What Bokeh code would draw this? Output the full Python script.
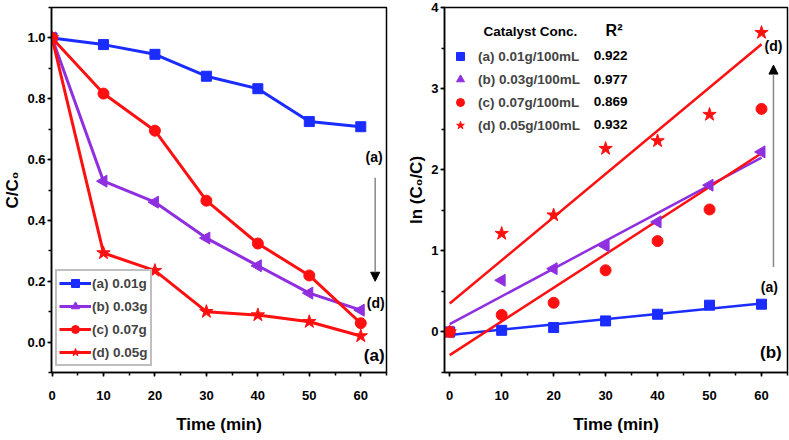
import numpy as np
from bokeh.plotting import figure
from bokeh.layouts import row
from bokeh.models import (Legend, LegendItem, Arrow, NormalHead, Label,
                          SingleIntervalTicker, PrintfTickFormatter)
from bokeh.embed import file_html
from bokeh.resources import INLINE

# ---------------- data ----------------
time = [0, 10, 20, 30, 40, 50, 60]

labels_left = ["(a) 0.01g", "(b) 0.03g", "(c) 0.07g", "(d) 0.05g"]
c_a = [1.0, 0.978, 0.946, 0.874, 0.833, 0.725, 0.708]
c_b = [1.0, 0.529, 0.460, 0.342, 0.251, 0.161, 0.105]
c_c = [1.0, 0.817, 0.695, 0.465, 0.324, 0.219, 0.062]
c_d = [1.0, 0.293, 0.235, 0.100, 0.089, 0.067, 0.020]

labels_right = ["(a) 0.01g/100mL", "(b) 0.03g/100mL", "(c) 0.07g/100mL", "(d) 0.05g/100mL"]
r2_values = ["0.922", "0.977", "0.869", "0.932"]
ln_a = [0.0, 0.020, 0.054, 0.136, 0.218, 0.330, 0.342]
ln_b = [0.0, 0.637, 0.780, 1.060, 1.357, 1.810, 2.220]
ln_c = [0.0, 0.210, 0.360, 0.760, 1.120, 1.510, 2.750]
ln_d = [0.0, 1.213, 1.440, 2.260, 2.355, 2.680, 3.690]

# ---------------- styles ----------------
BLUE = "#1a2cff"
PURPLE = "#8f2fe0"
RED = "#ff1010"
FONT = "Liberation Sans"
colors = [BLUE, PURPLE, RED, RED]
markers = ["square", "triangle", "circle", "star"]
angles = [0, np.pi / 2, 0, 0]
sizes = [10, 12, 11, 14]


def style_axes(p, xint, yint, yfmt=None):
    p.xgrid.visible = False
    p.ygrid.visible = False
    p.outline_line_color = "black"
    p.outline_line_width = 1.5
    p.outline_line_alpha = 1
    p.xaxis.ticker = SingleIntervalTicker(interval=xint, num_minor_ticks=2)
    p.yaxis.ticker = SingleIntervalTicker(interval=yint, num_minor_ticks=2)
    if yfmt:
        p.yaxis.formatter = PrintfTickFormatter(format=yfmt)
    for ax in (p.xaxis[0], p.yaxis[0]):
        ax.axis_line_width = 1.5
        ax.axis_line_color = "black"
        ax.major_tick_line_width = 1.5
        ax.minor_tick_line_width = 1.5
        ax.major_tick_in = 0
        ax.major_tick_out = 4
        ax.minor_tick_in = 0
        ax.minor_tick_out = 3
        ax.major_label_text_font = FONT
        ax.major_label_text_font_style = "bold"
        ax.major_label_text_font_size = "13px"
        ax.major_label_text_color = "black"
        ax.axis_label_text_font = FONT
        ax.axis_label_text_font_style = "bold"
        ax.axis_label_text_font_size = "17px"
        ax.axis_label_text_color = "black"
    p.xaxis.major_label_standoff = 14
    p.xaxis.axis_label_standoff = 12
    p.yaxis.major_label_standoff = 2
    p.yaxis.axis_label_standoff = 2


def txt(p, x, y, s, size="14px"):
    p.add_layout(Label(x=x, y=y, text=s, text_font=FONT, text_font_style="bold",
                       text_font_size=size, text_align="center",
                       text_baseline="middle", text_color="black"))


# ---------------- left panel ----------------
p1 = figure(width=400, height=440, x_range=(-0.1, 65), y_range=(-0.1, 1.1),
            output_backend="svg", toolbar_location=None,
            min_border_left=50, min_border_right=14, min_border_top=3,
            min_border_bottom=63, background_fill_color="white")
style_axes(p1, 10, 0.2, "%.1f")
p1.xaxis.axis_label = "Time (min)"
p1.yaxis.axis_label = "C/C\u2080"

items = []
for ys, lab, col, mk, ang, sz in zip([c_a, c_b, c_c, c_d], labels_left, colors,
                                     markers, angles, sizes):
    r1 = p1.line(time, ys, line_color=col, line_width=3)
    r2 = p1.scatter(time, ys, marker=mk, angle=ang, size=sz, fill_color=col,
                    line_color=col)
    items.append(LegendItem(label=lab, renderers=[r1, r2]))

leg1 = Legend(items=items, location=(4, 6), glyph_width=32, glyph_height=20,
              label_height=20, spacing=3, padding=2, margin=0,
              label_standoff=1, label_text_font=FONT,
              label_text_font_style="bold", label_text_font_size="13.5px",
              border_line_color="#808080", border_line_width=2,
              background_fill_alpha=1)
p1.add_layout(leg1, "center")

p1.add_layout(Arrow(end=NormalHead(size=9, fill_color="black", line_color="black"),
                    x_start=62.8, y_start=0.54, x_end=62.8, y_end=0.2,
                    line_color="#888888", line_width=1.5))
txt(p1, 62.6, 0.607, "(a)")
txt(p1, 62.9, 0.127, "(d)")
txt(p1, 62.6, -0.045, "(a)", "17px")

# ---------------- right panel ----------------
p2 = figure(width=389, height=440, x_range=(-1, 65), y_range=(-0.5, 4),
            output_backend="svg", toolbar_location=None,
            min_border_left=44, min_border_right=2, min_border_top=7,
            min_border_bottom=68, background_fill_color="white")
style_axes(p2, 10, 1)
p2.xaxis.axis_label = "Time (min)"
p2.yaxis.axis_label = "ln (C\u2080/C)"

xs = np.array(time, dtype=float)
fit_x = np.array([xs.min(), xs.max()])
items2 = []
for ys, col in zip([ln_a, ln_b, ln_c, ln_d], colors):
    k, b = np.polyfit(xs, np.array(ys), 1)
    p2.line(fit_x, k * fit_x + b, line_color=col, line_width=2.5)
for ys, lab, col, mk, ang, sz in zip([ln_a, ln_b, ln_c, ln_d], labels_right, colors,
                                     markers, angles, sizes):
    r = p2.scatter(time, ys, marker=mk, angle=ang, size=sz, fill_color=col,
                   line_color=col)
    items2.append(LegendItem(label=lab, renderers=[r]))

leg2 = Legend(items=items2, location=(4, 235), glyph_width=20, glyph_height=20,
              label_height=20, spacing=3, padding=2, margin=0,
              label_standoff=8, label_text_font=FONT,
              label_text_font_style="bold", label_text_font_size="13.5px",
              border_line_alpha=0, background_fill_alpha=0)
p2.add_layout(leg2, "center")

p2.add_layout(Label(x=6.5, y=3.70, text="Catalyst Conc.", text_font=FONT,
                    text_font_style="bold", text_font_size="13.5px",
                    text_baseline="middle", text_color="black"))
p2.add_layout(Label(x=30.0, y=3.72, text="R\u00b2", text_font=FONT,
                    text_font_style="bold", text_font_size="16px",
                    text_baseline="middle", text_color="black"))
r2_y = [3.408, 3.112, 2.84, 2.556]
for v, yy in zip(r2_values, r2_y):
    p2.add_layout(Label(x=27.7, y=yy, text=v, text_font=FONT,
                        text_font_style="bold", text_font_size="13.5px",
                        text_baseline="middle", text_color="black"))

p2.add_layout(Arrow(end=NormalHead(size=9, fill_color="black", line_color="black"),
                    x_start=62.3, y_start=0.80, x_end=62.3, y_end=3.29,
                    line_color="#888888", line_width=1.5))
txt(p2, 62.3, 3.53, "(d)")
txt(p2, 61.5, 0.56, "(a)")
txt(p2, 61.8, -0.25, "(b)", "17px")

layout = row(p1, p2)
open("out.html", "w").write(file_html(layout, INLINE))
